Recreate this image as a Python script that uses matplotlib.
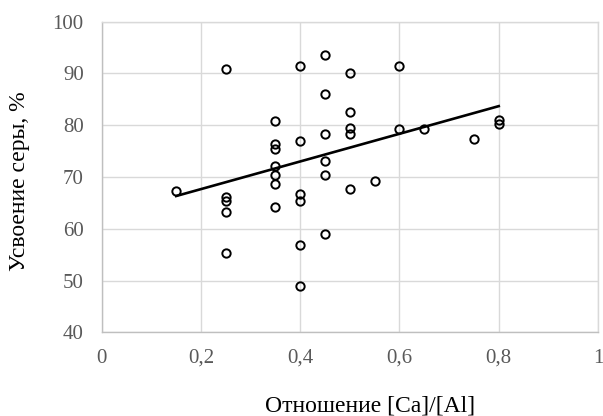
import numpy as np
import matplotlib
matplotlib.use("Agg")
import matplotlib.pyplot as plt

# Ca/Al ratio vs sulfur uptake
ratio = [0.15,
         0.25, 0.25, 0.25, 0.25, 0.25,
         0.35, 0.35, 0.35, 0.35, 0.35, 0.35, 0.35,
         0.40, 0.40, 0.40, 0.40, 0.40, 0.40,
         0.45, 0.45, 0.45, 0.45, 0.45, 0.45,
         0.50, 0.50, 0.50, 0.50, 0.50,
         0.55,
         0.60, 0.60,
         0.65,
         0.75,
         0.80, 0.80]
uptake = [67.3,
          90.9, 66.1, 65.4, 63.2, 55.4,
          80.8, 76.3, 75.5, 72.2, 70.3, 68.7, 64.3,
          91.5, 77.0, 66.7, 65.3, 56.9, 49.0,
          93.6, 86.0, 78.4, 73.0, 70.3, 58.9,
          90.0, 82.6, 79.4, 78.3, 67.6,
          69.2,
          91.5, 79.2,
          79.2,
          77.3,
          81.1, 80.2]

x_ticks = [0, 0.2, 0.4, 0.6, 0.8, 1]
x_labels = ["0", "0,2", "0,4", "0,6", "0,8", "1"]
y_ticks = [40, 50, 60, 70, 80, 90, 100]

plt.rcParams['font.family'] = ['Liberation Serif', 'DejaVu Serif']

fig = plt.figure(figsize=(6.03, 4.16), dpi=100)
ax = fig.add_axes([0.1687, 0.2012, 0.8230, 0.7466])

grid_c = '#d9d9d9'
ax.grid(True, color=grid_c, linewidth=1.0)
ax.set_axisbelow(True)
for s in ax.spines.values():
    s.set_color(grid_c)
    s.set_linewidth(1.0)
ax.spines['left'].set_color('#bfbfbf')
ax.spines['bottom'].set_color('#bfbfbf')

x = np.array(ratio)
y = np.array(uptake)
ax.plot(x, y, 'o', ls='none', mfc='none', mec='black', ms=6, mew=1.4, zorder=3)

# linear trend line over the data range
k, b = np.polyfit(x, y, 1)
xs = np.array([x.min(), x.max()])
ax.plot(xs, k * xs + b, color='black', lw=1.9, zorder=4)

ax.set_xlim(0, 1)
ax.set_ylim(40, 100)
ax.set_xticks(x_ticks)
ax.set_xticklabels(x_labels)
ax.set_yticks(y_ticks)
ax.tick_params(length=0, labelsize=15, labelcolor='#595959')
ax.tick_params(axis='x', pad=12)
ax.tick_params(axis='y', pad=13)

fig.text(370 / 603, 1 - 406 / 416, 'Отношение [Ca]/[Al]', fontsize=17,
         ha='center', va='center')
fig.text(20 / 603, 1 - 181 / 416, 'Усвоение серы, %', fontsize=17,
         ha='center', va='center', rotation=90)

fig.savefig('out.png', dpi=100)
